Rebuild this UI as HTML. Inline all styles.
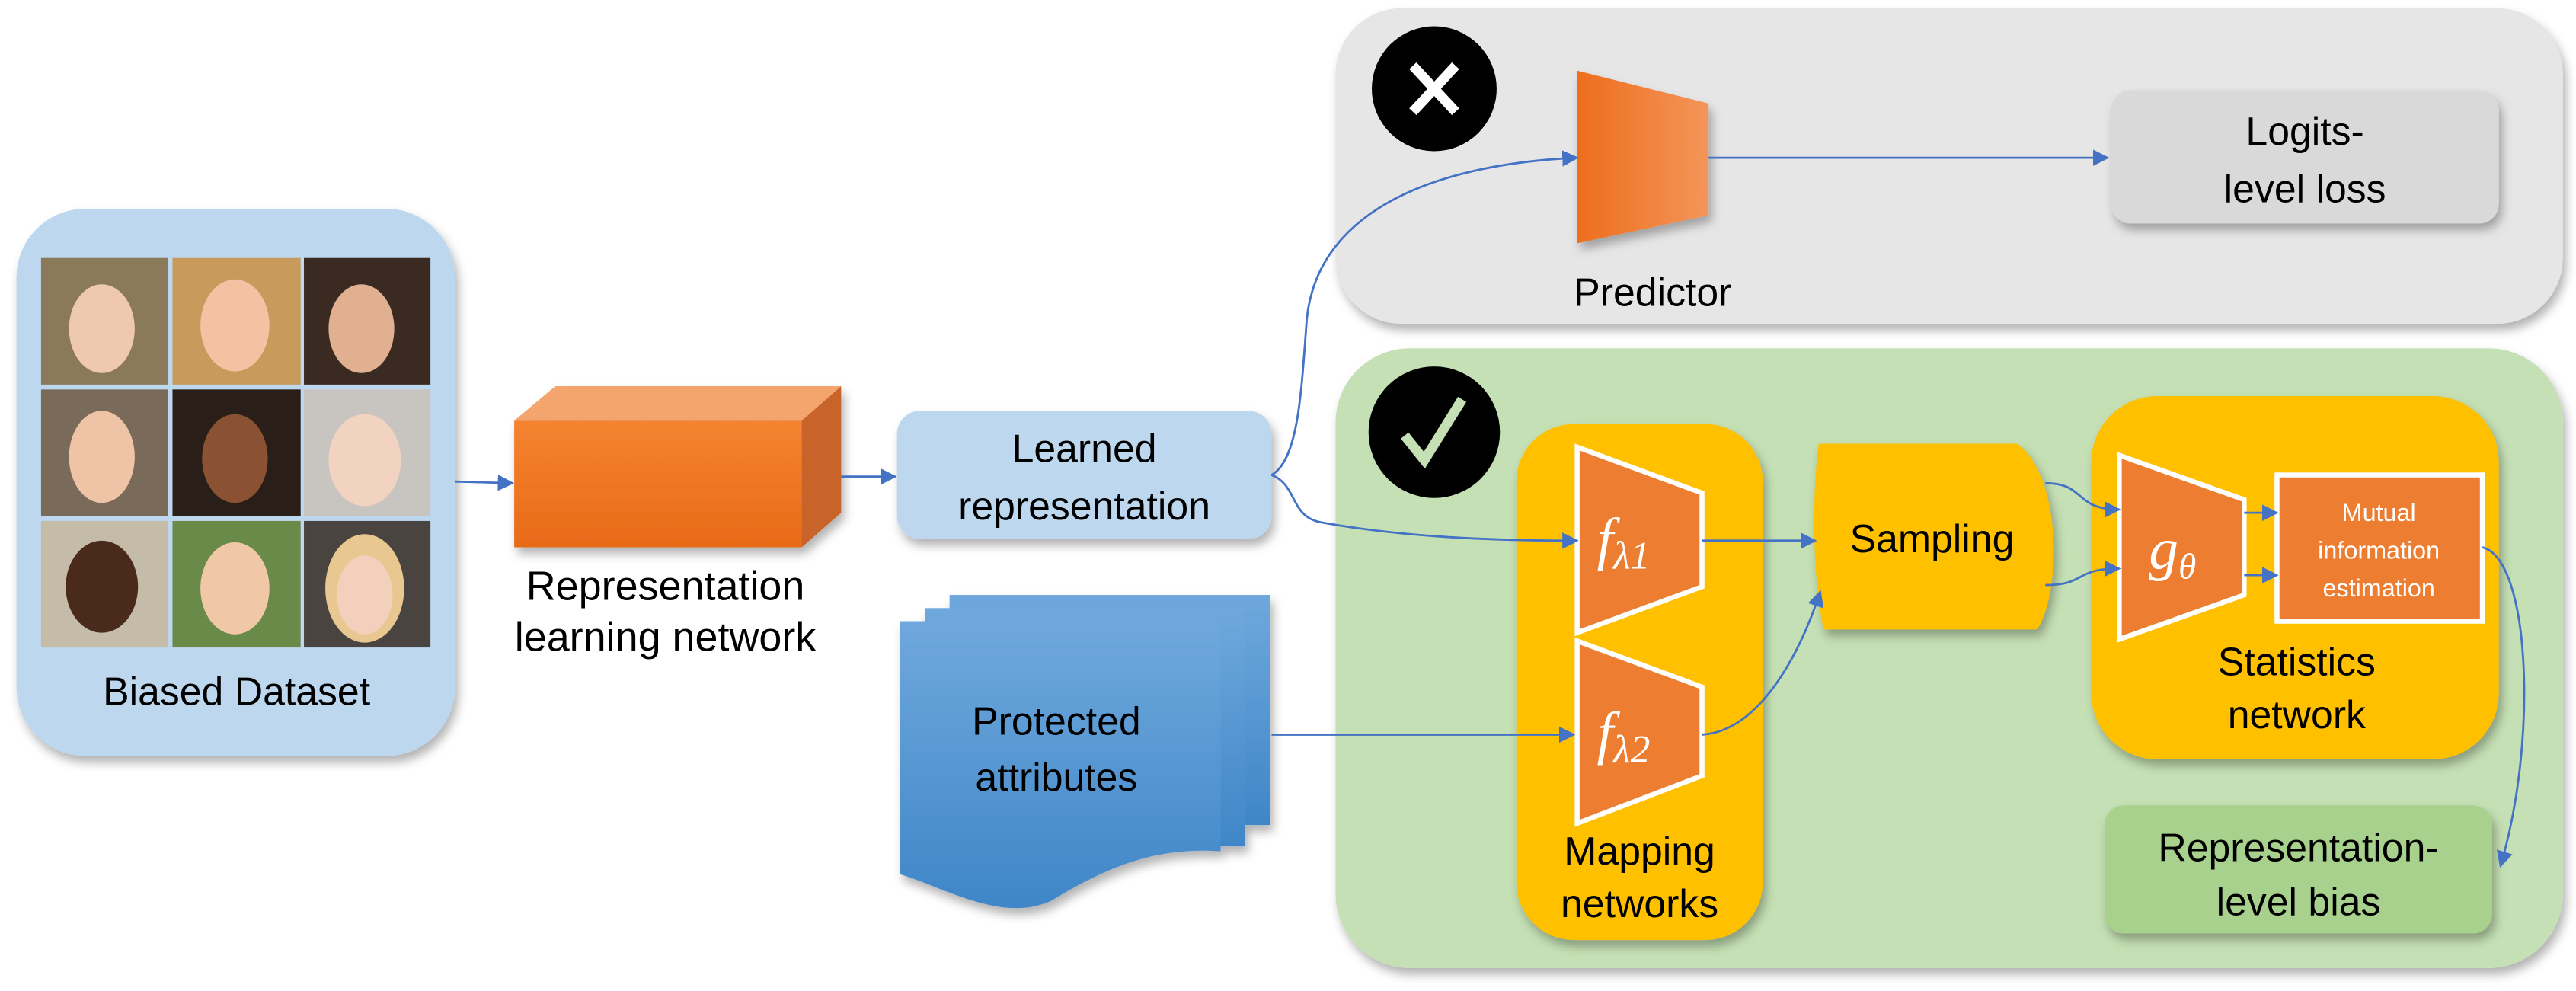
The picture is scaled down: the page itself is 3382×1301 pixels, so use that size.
<!DOCTYPE html>
<html><head><meta charset="utf-8"><style>html,body{margin:0;padding:0;background:#fff}svg{display:block}</style></head>
<body>
<svg width="3382" height="1301" viewBox="0 0 1568 603" preserveAspectRatio="none" xmlns="http://www.w3.org/2000/svg" font-family="'Liberation Sans', sans-serif">
<defs>
<filter id="sh" x="-10%" y="-10%" width="125%" height="130%"><feDropShadow dx="2" dy="4" stdDeviation="3" flood-color="#000" flood-opacity="0.3"/></filter>
<linearGradient id="pred" x1="0" x2="1" y1="0" y2="0"><stop offset="0" stop-color="#ed6e1d"/><stop offset="1" stop-color="#f4955a"/></linearGradient>
<linearGradient id="front" x1="0" x2="0" y1="0" y2="1"><stop offset="0" stop-color="#f48330"/><stop offset="1" stop-color="#e96a18"/></linearGradient>
<linearGradient id="doc" x1="0" x2="0" y1="0" y2="1"><stop offset="0" stop-color="#6fa8dc"/><stop offset="1" stop-color="#3f86c8"/></linearGradient>
<marker id="ar" markerWidth="10" markerHeight="10" refX="9" refY="5" orient="auto" markerUnits="userSpaceOnUse"><path d="M0,0 L10,5 L0,10 z" fill="#4472c4"/></marker>
</defs>

<rect x="10" y="127" width="267" height="333" rx="42" fill="#bdd7ee" filter="url(#sh)"/>
<g>
<rect x="25" y="157" width="77" height="77" fill="#8a7a5a"/><ellipse cx="62" cy="200" rx="20" ry="27" fill="#efc8b0"/>
<rect x="105" y="157" width="78" height="77" fill="#c89a5c"/><ellipse cx="143" cy="198" rx="21" ry="28" fill="#f2c2a2"/>
<rect x="185" y="157" width="77" height="77" fill="#3a2a22"/><ellipse cx="220" cy="200" rx="20" ry="27" fill="#e0b090"/>
<rect x="25" y="237" width="77" height="77" fill="#7a6a5a"/><ellipse cx="62" cy="278" rx="20" ry="28" fill="#efc4a6"/>
<rect x="105" y="237" width="78" height="77" fill="#2a1e18"/><ellipse cx="143" cy="279" rx="20" ry="27" fill="#8a5232"/>
<rect x="185" y="237" width="77" height="77" fill="#c8c4c0"/><ellipse cx="222" cy="280" rx="22" ry="28" fill="#f2d2c0"/>
<rect x="25" y="317" width="77" height="77" fill="#c4bca8"/><ellipse cx="62" cy="357" rx="22" ry="28" fill="#4a2a1a"/>
<rect x="105" y="317" width="78" height="77" fill="#6a8a4a"/><ellipse cx="143" cy="358" rx="21" ry="28" fill="#f0c8a8"/>
<rect x="185" y="317" width="77" height="77" fill="#4a4440"/><ellipse cx="222" cy="358" rx="24" ry="33" fill="#e8c890"/><ellipse cx="222" cy="362" rx="17" ry="24" fill="#f2d0bc"/>
</g>
<text x="144" y="429" font-size="24" text-anchor="middle">Biased Dataset</text>

<line x1="277" y1="293" x2="312" y2="294" stroke="#4472c4" stroke-width="1.3" marker-end="url(#ar)"/>

<g filter="url(#sh)">
<polygon points="313,256 338,235 512,235 488,256" fill="#f4a46d"/>
<polygon points="488,256 512,235 512,312 488,333" fill="#c8642a"/>
<rect x="313" y="256" width="175" height="77" fill="url(#front)"/>
</g>
<text x="405" y="365" font-size="25" text-anchor="middle">Representation</text>
<text x="405" y="396" font-size="25" text-anchor="middle">learning network</text>

<line x1="512" y1="290" x2="545" y2="290" stroke="#4472c4" stroke-width="1.3" marker-end="url(#ar)"/>

<rect x="546" y="250" width="228" height="78" rx="14" fill="#bdd7ee" filter="url(#sh)"/>
<text x="660" y="281" font-size="24" text-anchor="middle">Learned</text>
<text x="660" y="316" font-size="24" text-anchor="middle">representation</text>

<g filter="url(#sh)" fill="url(#doc)">
<rect x="578" y="362" width="195" height="140"/>
<rect x="563" y="370" width="195" height="145"/>
<path d="M548,378 H743 V518 C700,515 670,530 640,548 C610,562 575,540 548,532 Z"/>
</g>
<text x="643" y="447" font-size="24" text-anchor="middle">Protected</text>
<text x="643" y="481" font-size="24" text-anchor="middle">attributes</text>

<rect x="813" y="5" width="747" height="192" rx="40" fill="#e7e6e6" filter="url(#sh)"/>
<circle cx="873" cy="54" r="38" fill="#000"/>
<path d="M860,40 L886,68 M886,40 L860,68" stroke="#fff" stroke-width="6"/>
<polygon points="960,43 1040,63 1040,131 960,148" fill="url(#pred)" filter="url(#sh)"/>
<text x="1006" y="186" font-size="24" text-anchor="middle">Predictor</text>
<line x1="1040" y1="96" x2="1283" y2="96" stroke="#4472c4" stroke-width="1.3" marker-end="url(#ar)"/>
<rect x="1285" y="55" width="236" height="81" rx="12" fill="#d9d9d9" filter="url(#sh)"/>
<text x="1403" y="88" font-size="24" text-anchor="middle">Logits-</text>
<text x="1403" y="123" font-size="24" text-anchor="middle">level loss</text>

<rect x="813" y="212" width="747" height="377" rx="45" fill="#c5e0b4" filter="url(#sh)"/>
<circle cx="873" cy="263" r="40" fill="#000"/>
<path d="M855,265 L867,280 L890,243" stroke="#c5e0b4" stroke-width="6" fill="none"/>

<rect x="923" y="258" width="150" height="314" rx="35" fill="#ffc000" filter="url(#sh)"/>
<polygon points="960,272 1036,300 1036,357 960,385" fill="#ed7d31" stroke="#fff" stroke-width="3"/>
<polygon points="960,390 1036,418 1036,472 960,501" fill="#ed7d31" stroke="#fff" stroke-width="3"/>
<text x="972" y="340" font-size="36" fill="#fff" font-style="italic" font-family="'Liberation Serif', serif">f<tspan font-size="24" dy="6">λ1</tspan></text>
<text x="972" y="458" font-size="36" fill="#fff" font-style="italic" font-family="'Liberation Serif', serif">f<tspan font-size="24" dy="6">λ2</tspan></text>
<text x="998" y="526" font-size="24" text-anchor="middle">Mapping</text>
<text x="998" y="558" font-size="24" text-anchor="middle">networks</text>

<path d="M1107,270 H1228 C1255,290 1255,360 1240,383 H1110 C1103,350 1103,300 1107,270 Z" fill="#ffc000" filter="url(#sh)"/>
<text x="1176" y="336" font-size="24" text-anchor="middle">Sampling</text>

<rect x="1273" y="241" width="248" height="221" rx="40" fill="#ffc000" filter="url(#sh)"/>
<polygon points="1290,277 1366,304 1366,362 1290,389" fill="#ed7d31" stroke="#fff" stroke-width="3"/>
<text x="1308" y="346" font-size="36" fill="#fff" font-style="italic" font-family="'Liberation Serif', serif">g<tspan font-size="22" dy="6">θ</tspan></text>
<rect x="1386" y="289" width="125" height="89" fill="#ed7d31" stroke="#fff" stroke-width="3"/>
<text x="1448" y="317" font-size="15" fill="#fff" text-anchor="middle">Mutual</text>
<text x="1448" y="340" font-size="15" fill="#fff" text-anchor="middle">information</text>
<text x="1448" y="363" font-size="15" fill="#fff" text-anchor="middle">estimation</text>
<text x="1398" y="411" font-size="24" text-anchor="middle">Statistics</text>
<text x="1398" y="443" font-size="24" text-anchor="middle">network</text>

<rect x="1281" y="490" width="236" height="78" rx="12" fill="#a9d18e" filter="url(#sh)"/>
<text x="1399" y="524" font-size="24" text-anchor="middle">Representation-</text>
<text x="1399" y="557" font-size="24" text-anchor="middle">level bias</text>

<g stroke="#4472c4" stroke-width="1.3" fill="none">
<path d="M774,289 C790,280 792,240 795,200 C798,130 870,100 960,96" marker-end="url(#ar)"/>
<path d="M774,289 C790,295 785,315 805,318 C850,326 900,329 960,329" marker-end="url(#ar)"/>
<line x1="1036" y1="329" x2="1105" y2="329" marker-end="url(#ar)"/>
<path d="M774,447 H958" marker-end="url(#ar)"/>
<path d="M1036,447 C1070,445 1095,400 1108,360" marker-end="url(#ar)"/>
<path d="M1245,294 C1270,294 1262,310 1290,310" marker-end="url(#ar)"/>
<path d="M1245,356 C1270,356 1262,346 1290,346" marker-end="url(#ar)"/>
<line x1="1366" y1="312" x2="1386" y2="312" marker-end="url(#ar)"/>
<line x1="1366" y1="350" x2="1386" y2="350" marker-end="url(#ar)"/>
<path d="M1511,333 C1540,340 1545,450 1522,527" marker-end="url(#ar)"/>
</g>
</svg>
</body></html>
